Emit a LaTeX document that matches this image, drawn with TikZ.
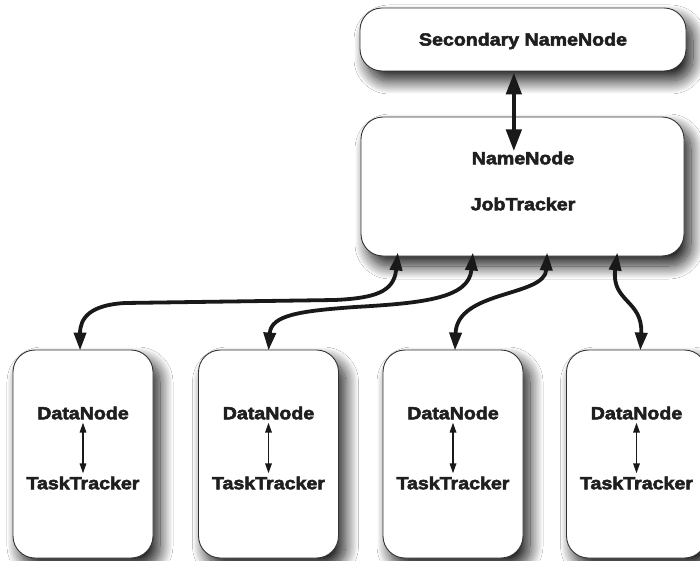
\documentclass[tikz,border=0pt]{standalone}
\usepackage{fontspec}
\newfontfamily\lblfont{Liberation Sans}[FakeBold=3,FakeStretch=1.12]
\usetikzlibrary{arrows.meta,shadows.blur,calc}
\begin{document}
\begin{tikzpicture}[x=1pt,y=-1pt,
  box/.style={draw=black!80, line width=0.9pt, fill=white, rounded corners=22pt, inner sep=0pt,
    blur shadow={shadow xshift=7pt, shadow yshift=-10pt, shadow blur radius=13pt, shadow blur steps=24, shadow opacity=90}},
  lbl/.style={font=\lblfont\bfseries\fontsize{17.5}{21}\selectfont, text=black!88, inner sep=1pt},
  bigarrow/.style={line width=4.5pt, black!90, {Triangle[length=22pt,width=15pt]}-{Triangle[length=22pt,width=15pt]}},
  conn/.style={line width=3.8pt, black!90, {Triangle[length=18pt,width=12pt]}-{Triangle[length=18pt,width=12pt]}},
  small/.style={line width=1.6pt, black!90, {Triangle[length=10pt,width=6.5pt]}-{Triangle[length=10pt,width=6.5pt]}, shorten <=2pt, shorten >=2pt}
]
\useasboundingbox (0,0) rectangle (700,561);
\fill[white] (0,0) rectangle (700,561);

% top boxes
\node[box, minimum width=326pt, minimum height=63pt] (snn) at (523,39.5) {};
\node[box, minimum width=323pt, minimum height=139pt] (nn) at (522.5,186.5) {};
\node[lbl] (snnt) at (523,41) {Secondary NameNode};
\node[lbl] (nnt) at (523,158) {NameNode};
\node[lbl] (jtt) at (523,204) {JobTracker};

% bottom boxes
\foreach \i/\cx in {1/83,2/268.5,3/453,4/636.5}{
  \node[box, minimum width=140pt, minimum height=208pt] (b\i) at (\cx,454) {};
  \node[lbl] (d\i) at (\cx,413) {DataNode};
  \node[lbl] (t\i) at (\cx,483) {TaskTracker};
  \draw[small] (d\i) -- (t\i);
}

% Secondary <-> NameNode
\coordinate (a0) at ($(snn.south west)!0.472!(snn.south east)$);
\draw[bigarrow] ([yshift=-1pt]a0) -- ([yshift=-1pt]a0 |- nnt.north);

% NameNode/JobTracker <-> workers
\coordinate (u1) at ($(nn.south west)!0.115!(nn.south east)$);
\coordinate (u2) at ($(nn.south west)!0.347!(nn.south east)$);
\coordinate (u3) at ($(nn.south west)!0.576!(nn.south east)$);
\coordinate (u4) at ($(nn.south west)!0.793!(nn.south east)$);
\coordinate (l1) at ($(b1.north west)!0.479!(b1.north east)$);
\coordinate (l2) at ($(b2.north west)!0.5!(b2.north east)$);
\coordinate (l3) at ($(b3.north west)!0.514!(b3.north east)$);
\coordinate (l4) at ($(b4.north west)!0.527!(b4.north east)$);

\draw[conn] ([yshift=4pt]u1) .. controls (394,292) and (375,298) .. (335,300)
   -- (125,303) .. controls (90,305) and (80,318) .. ([yshift=-1pt]l1);
\draw[conn] ([yshift=4pt]u2) .. controls (469,298) and (425,303) .. (355,307)
   .. controls (300,311) and (271,315) .. ([yshift=-1pt]l2);
\draw[conn] ([yshift=4pt]u3) .. controls (545,297) and (457,290) .. ([yshift=-1pt]l3);
\draw[conn] ([yshift=4pt]u4) .. controls (611,302) and (643,300) .. ([yshift=-1pt]l4);
\end{tikzpicture}
\end{document}
